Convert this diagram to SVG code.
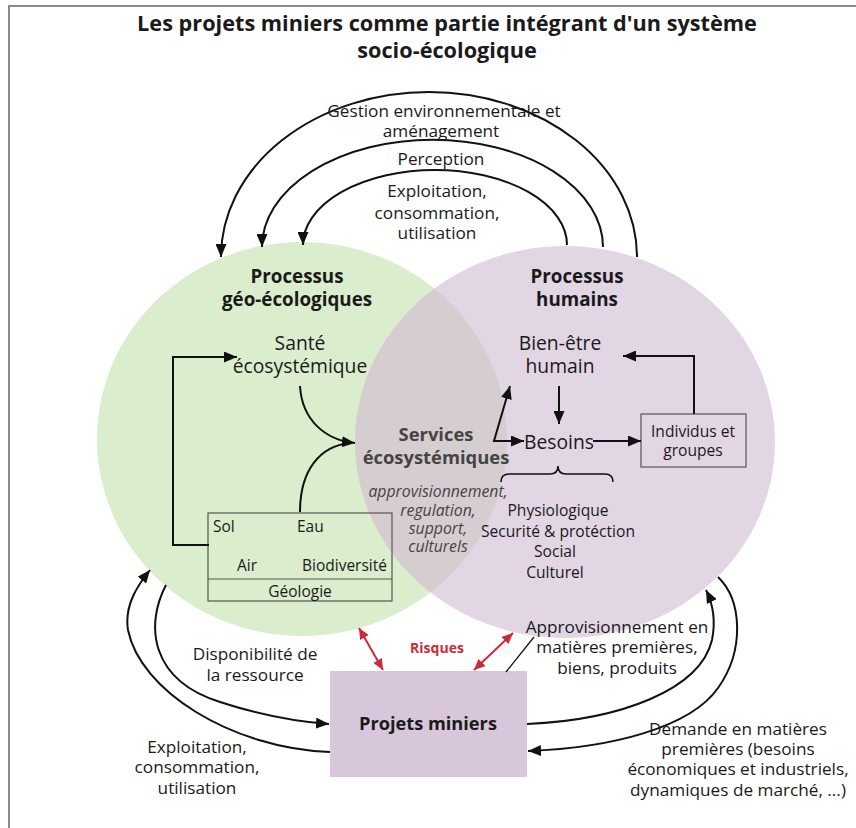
<svg xmlns="http://www.w3.org/2000/svg" width="856" height="828" viewBox="0 0 856 828">
<defs>
<style>
text{font-family:"Open Sans","Noto Sans","DejaVu Sans",sans-serif;fill:#1a1a1a;text-anchor:middle}
.t{font-size:17.2px}
.b{font-weight:bold}
.title{font-size:21.7px;font-weight:bold}
.hd{font-size:18.8px;font-weight:bold}
.lg{font-size:19.3px}
.sm{font-size:15.5px}
.md{font-size:15.6px}
.it{font-style:italic;font-size:15.8px;fill:#444}
.sv{font-size:18.4px;font-weight:bold;fill:#444}
.red{fill:#d0293a;font-weight:bold;font-size:14px}
.ln{fill:none;stroke:#111;stroke-width:2}
.rl{fill:none;stroke:#d0293a;stroke-width:2}
.bx{fill:none;stroke:#555;stroke-width:1.2}
</style>
<marker id="ah" markerUnits="userSpaceOnUse" markerWidth="14" markerHeight="11" refX="13" refY="5.5" orient="auto"><path d="M0,0 L13,5.5 L0,11 z" fill="#111"/></marker>
<marker id="as" markerUnits="userSpaceOnUse" markerWidth="14" markerHeight="11" refX="13" refY="5.5" orient="auto-start-reverse"><path d="M0,0 L13,5.5 L0,11 z" fill="#111"/></marker>
<marker id="ar" markerUnits="userSpaceOnUse" markerWidth="12" markerHeight="10" refX="11" refY="5" orient="auto-start-reverse"><path d="M0,0 L11,5 L0,10 z" fill="#d0293a"/></marker>
<clipPath id="cp"><ellipse cx="565" cy="442" rx="210" ry="196"/></clipPath>
</defs>
<rect width="856" height="828" fill="#fff"/>
<path d="M9,828 L9,6 L856,6" fill="none" stroke="#8a8a8a" stroke-width="2"/>
<g id="title">
<text class="title" x="447" y="31">Les projets miniers comme partie intégrant d'un système</text>
<text class="title" x="447" y="58">socio-écologique</text>
</g>
<g id="geo">
<ellipse cx="302" cy="439" rx="205" ry="197" fill="#daeecd"/>
</g>
<g id="humain">
<ellipse cx="565" cy="442" rx="210" ry="196" fill="#e2d6e4"/>
<ellipse cx="302" cy="439" rx="205" ry="197" fill="#d6cdd0" clip-path="url(#cp)"/>
</g>
<g id="labels-geo">
<text class="hd" x="297" y="283">Processus</text>
<text class="hd" x="297" y="306">géo-écologiques</text>
</g>
<g id="sante"><text class="lg" x="300" y="350">Santé</text><text class="lg" x="300" y="373">écosystémique</text></g>
<g id="milieu">
<rect class="bx" x="208" y="513" width="184" height="88"/>
<line class="bx" x1="208" y1="579" x2="392" y2="579"/>
<text class="sm" x="213" y="532" style="text-anchor:start">Sol</text>
<text class="sm" x="297" y="532" style="text-anchor:start">Eau</text>
<text class="sm" x="237" y="571" style="text-anchor:start">Air</text>
<text class="sm" x="387" y="571" style="text-anchor:end">Biodiversité</text>
<text class="sm" x="300" y="597">Géologie</text>
</g>
<g id="services">
<text class="sv" x="436" y="441">Services</text>
<text class="sv" x="436" y="464">écosystémiques</text>
<text class="it" x="438" y="497">approvisionnement,</text>
<text class="it" x="438" y="516">regulation,</text>
<text class="it" x="438" y="534">support,</text>
<text class="it" x="438" y="552">culturels</text>
</g>
<g id="labels-hum">
<text class="hd" x="577" y="283">Processus</text>
<text class="hd" x="577" y="306">humains</text>
</g>
<g id="bienetre"><text class="lg" x="560" y="350">Bien-être</text><text class="lg" x="560" y="373">humain</text></g>
<g id="besoins"><text class="lg" x="559" y="449">Besoins</text></g>
<g id="individus">
<rect class="bx" x="641" y="414" width="105" height="53" fill="none"/>
<text class="md" x="693" y="437">Individus et</text>
<text class="md" x="693" y="456">groupes</text>
</g>
<g id="liste">
<path d="M501,482 Q501,474 509,474 L550,474 Q558,474 558,466 Q558,474 566,474 L605,474 Q613,474 613,482" fill="none" stroke="#111" stroke-width="1.6"/>
<text class="md" x="558" y="516">Physiologique</text>
<text class="md" x="558" y="537">Securité &amp; protéction</text>
<text class="md" x="555" y="557">Social</text>
<text class="md" x="555" y="578">Culturel</text>
</g>
<g id="projets">
<rect x="330" y="671" width="197" height="106" fill="#d8c7da"/>
<text class="b" x="428" y="730" style="font-size:18.2px">Projets miniers</text>
</g>
<g id="connectors">
<path class="ln" d="M637,257 A208,165 0 0 0 221,257" marker-end="url(#ah)"/>
<path class="ln" d="M603,247 A170,107 0 0 0 262,247" marker-end="url(#ah)"/>
<path class="ln" d="M567,245 A132,75 0 0 0 303,245" marker-end="url(#ah)"/>
<path class="ln" d="M209,545 L173,545 L173,357 L237,357" marker-end="url(#ah)"/>
<path class="ln" d="M300,386 C302,420 325,440 355,443" marker-end="url(#ah)"/>
<path class="ln" d="M300,512 C300,470 320,446 350,443"/>
<path class="ln" d="M510,386 L494,441 L524,441" marker-start="url(#as)" marker-end="url(#ah)"/>
<path class="ln" d="M559,386 L559,424" marker-end="url(#ah)"/>
<path class="ln" d="M593,441 L641,441" marker-end="url(#ah)"/>
<path class="ln" d="M694,414 L694,356 L623,356" marker-end="url(#ah)"/>
<path class="ln" d="M330,752 C230,748 140,690 128,630 C124,605 138,585 150,570" marker-end="url(#ah)"/>
<path class="ln" d="M166,585 C145,625 150,680 220,702 C260,715 300,722 329,724" marker-end="url(#ah)"/>
<path class="ln" d="M527,724 C620,720 700,690 712,640 C716,620 712,602 706,590" marker-end="url(#ah)"/>
<path class="ln" d="M718,577 C742,600 745,650 718,688 C690,728 610,748 528,751" marker-end="url(#ah)"/>
<path class="rl" d="M359,628 L383,670" marker-start="url(#ar)" marker-end="url(#ar)"/>
<path class="rl" d="M474,670 L513,633" marker-start="url(#ar)" marker-end="url(#ar)"/>
<path d="M506,672 L534,637" fill="none" stroke="#111" stroke-width="1.3"/>
</g>
<g id="labels">
<text class="t" x="444" y="117">Gestion environnementale et</text>
<text class="t" x="441" y="137">aménagement</text>
<text class="t" x="441" y="165">Perception</text>
<text class="t" x="437" y="197">Exploitation,</text>
<text class="t" x="437" y="219">consommation,</text>
<text class="t" x="437" y="239">utilisation</text>
<text class="red" x="437" y="653">Risques</text>
<text class="t" x="255" y="660">Disponibilité de</text>
<text class="t" x="255" y="681">la ressource</text>
<text class="t" x="197" y="753">Exploitation,</text>
<text class="t" x="197" y="773">consommation,</text>
<text class="t" x="197" y="794">utilisation</text>
<text class="t" x="617" y="633">Approvisionnement en</text>
<text class="t" x="617" y="653">matières premières,</text>
<text class="t" x="617" y="674">biens, produits</text>
<text class="t" x="738" y="735">Demande en matières</text>
<text class="t" x="738" y="755">premières (besoins</text>
<text class="t" x="738" y="775">économiques et industriels,</text>
<text class="t" x="738" y="796">dynamiques de marché, ...)</text>
</g>
</svg>
